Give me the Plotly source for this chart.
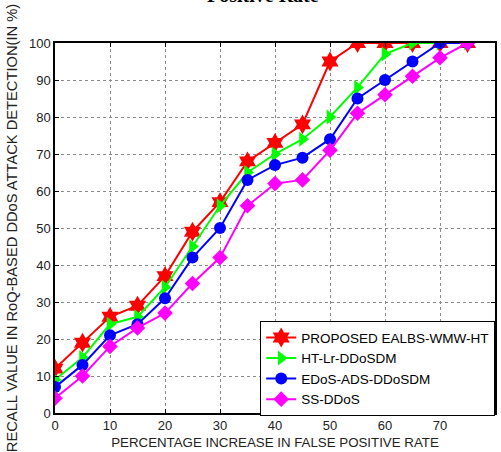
import plotly.graph_objects as go

x_vals = [0, 5, 10, 15, 20, 25, 30, 35, 40, 45, 50, 55, 60, 65, 70, 75]
proposed = [12, 19, 26, 29, 37, 49, 57, 68, 73, 78, 95, 100, 100, 100, 100, 100]
ht_lr = [9, 15, 24, 26, 34, 45, 56, 65, 70, 74, 80, 88, 97, 100, 100, 100]
edos = [7, 13, 21, 24, 31, 42, 50, 63, 67, 69, 74, 85, 90, 95, 100, 100]
ss_ddos = [4, 10, 18, 23, 27, 35, 42, 56, 62, 63, 71, 81, 86, 91, 96, 100]

series = [
    ("PROPOSED EALBS-WMW-HT", proposed, "#ff0000", "hexagram", 15),
    ("HT-Lr-DDoSDM", ht_lr, "#00ff00", "triangle-right", 13),
    ("EDoS-ADS-DDoSDM", edos, "#0000ff", "circle", 12),
    ("SS-DDoS", ss_ddos, "#ff00ff", "diamond", 12),
]

fig = go.Figure()
for name, vals, color, sym, sz in series:
    fig.add_trace(go.Scatter(
        x=x_vals, y=vals, name=name, mode="lines+markers",
        line=dict(color=color, width=2),
        marker=dict(symbol=sym, size=sz, color=color, line=dict(width=0)),
    ))

font = "Liberation Sans, Arial, sans-serif"
axis_common = dict(
    showgrid=True, gridcolor="#8a8a8a", griddash="dot", gridwidth=1,
    showline=True, linecolor="black", linewidth=1.5, mirror="ticks",
    ticks="inside", ticklen=4, tickcolor="black", zeroline=False,
    tickfont=dict(family=font, size=13, color="#222"),
)

fig.update_layout(
    width=501, height=452,
    margin=dict(l=55, r=6, t=43, b=39, autoexpand=False),
    paper_bgcolor="white", plot_bgcolor="white",
    showlegend=True,
    legend=dict(
        x=1, y=-3 / 370, xanchor="right", yanchor="bottom",
        bgcolor="white", bordercolor="black", borderwidth=1.2,
        font=dict(family=font, size=13.5, color="black"),
        tracegroupgap=0, itemsizing="trace",
    ),
    xaxis=dict(range=[0, 80], dtick=10,
               title=dict(text="PERCENTAGE INCREASE IN FALSE POSITIVE RATE",
                          font=dict(family=font, size=13.3, color="#222"), standoff=5),
               **axis_common),
    yaxis=dict(range=[0, 100], dtick=10,
               title=dict(text="RECALL VALUE IN RoQ-BASED DDoS ATTACK DETECTION(IN %)",
                          font=dict(family=font, size=14.7, color="#222"), standoff=8),
               **axis_common),
    annotations=[dict(
        text="<b>Positive Rate</b>", xref="paper", yref="paper",
        x=(263 - 55) / 440, y=1 + (43 - 8) / 370,
        xanchor="center", yanchor="bottom", showarrow=False,
        font=dict(family="Liberation Serif, Times New Roman, serif", size=20, color="black"),
    )],
)

fig.write_html("out.html", config={"displayModeBar": False},
               post_script="document.body.style.margin='0';document.body.style.overflow='hidden';")
